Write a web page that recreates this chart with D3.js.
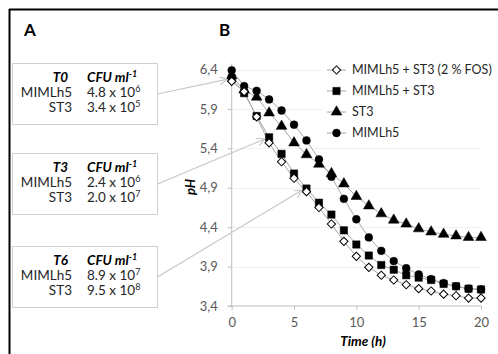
<!DOCTYPE html>
<html><head><meta charset="utf-8">
<script src="https://cdn.jsdelivr.net/npm/d3@7"></script>
<style>body{margin:0;background:#fff}svg{display:block}text{font-family:Lato,"Open Sans",sans-serif}</style>
</head><body><svg id="c" width="498" height="354"></svg>
<script>
const time = d3.range(0, 21);
const fos   = [6.25,6.12,5.80,5.47,5.23,5.02,4.85,4.65,4.44,4.22,4.03,3.89,3.79,3.73,3.67,3.62,3.59,3.55,3.53,3.50,3.50];
const mixed = [6.29,6.10,5.81,5.54,5.33,5.08,4.89,4.71,4.56,4.36,4.18,4.04,3.92,3.86,3.79,3.76,3.73,3.68,3.65,3.62,3.61];
const st3   = [6.32,6.14,6.05,5.85,5.68,5.47,5.32,5.20,5.08,4.95,4.79,4.67,4.57,4.49,4.44,4.38,4.34,4.31,4.29,4.27,4.27];
const mimlh5= [6.39,6.19,6.13,6.02,5.88,5.70,5.50,5.26,5.04,4.76,4.50,4.27,4.10,3.97,3.88,3.80,3.74,3.69,3.65,3.62,3.61];
const seriesNames = ["MIMLh5 + ST3 (2 % FOS)","MIMLh5 + ST3","ST3","MIMLh5"];
const seriesShapes = ["diamond","square","triangle","circle"];
const yTicks = [3.4,3.9,4.4,4.9,5.4,5.9,6.4];
const xTicks = [0,5,10,15,20];
const boxTitles = ["T0","T3","T6"];
const boxRows = [["MIMLh5","4.8","6"],["ST3","3.4","5"],["MIMLh5","2.4","6"],["ST3","2.0","7"],["MIMLh5","8.9","7"],["ST3","9.5","8"]];
const arrowTimes = [0,3,6];
const arrowSeries = [0,1,1];

const svg = d3.select("#c");
const x = d3.scaleLinear().domain([0,20]).range([231.7,481]);
const y = d3.scaleLinear().domain([3.4,6.4]).range([306,69.5]);

// frame
svg.append("line").attr("x1",9).attr("x2",498).attr("y1",9.5).attr("y2",9.5).attr("stroke","#000").attr("stroke-width",2);
svg.append("line").attr("x1",9.5).attr("x2",9.5).attr("y1",9).attr("y2",354).attr("stroke","#000").attr("stroke-width",2);

svg.append("text").attr("x",24).attr("y",36).attr("font-size",17).attr("font-weight","bold").attr("fill","#000").text("A");
svg.append("text").attr("x",219).attr("y",36).attr("font-size",17).attr("font-weight","bold").attr("fill","#000").text("B");

// gridlines
svg.append("g").selectAll("line").data(yTicks.slice(1)).join("line")
  .attr("x1",x(0)).attr("x2",x(20)).attr("y1",d=>Math.round(y(d))+0.5).attr("y2",d=>Math.round(y(d))+0.5)
  .attr("stroke","#f0f0f0").attr("stroke-width",1);

// axes
const fmt = d=>d3.format(".1f")(d).replace(".",",");
const ya = svg.append("g").attr("transform",`translate(${x(0)},0)`)
  .call(d3.axisLeft(y).tickValues(yTicks).tickFormat(fmt).tickSize(4).tickPadding(10));
ya.select(".domain").attr("stroke","#bfbfbf").attr("d",`M-4,${y(3.4)}H0V${y(6.4)-6}`);
const xa = svg.append("g").attr("transform",`translate(0,${y(3.4)})`)
  .call(d3.axisBottom(x).tickValues(xTicks).tickSize(4).tickPadding(8));
xa.select(".domain").attr("stroke","#bfbfbf").attr("d",`M${x(0)},0H${x(20)}`);
[ya,xa].forEach(a=>{a.selectAll(".tick line").attr("stroke","#bfbfbf");
  a.selectAll("text").attr("font-size",13).attr("fill","#595959").attr("font-family","Lato,sans-serif");});

svg.append("text").attr("transform","translate(195,187) rotate(-90)").attr("text-anchor","middle")
  .attr("font-size",13).attr("font-weight","bold").attr("font-style","italic").attr("fill","#000").text("pH");
svg.append("text").attr("x",363).attr("y",346).attr("text-anchor","middle")
  .attr("font-size",13.5).attr("font-weight","bold").attr("font-style","italic").attr("fill","#000").text("Time (h)");

// series
const allData = [fos,mixed,st3,mimlh5];
const symbolOf = s => ({diamond:d3.symbol().type(d3.symbolSquare).size(34),
  square:d3.symbol().type(d3.symbolSquare).size(54),
  triangle:d3.symbol().type(d3.symbolTriangle).size(50),
  circle:d3.symbol().type(d3.symbolCircle).size(48)})[s];
const line = d3.line().x((d,i)=>x(time[i])).y(d=>y(d));
const order = [3,2,1,0];
order.forEach(k=>{
  svg.append("path").datum(allData[k]).attr("d",line).attr("fill","none").attr("stroke","#a6a6a6").attr("stroke-width",1);
});
order.forEach(k=>{
  const shp = seriesShapes[k];
  svg.append("g").selectAll("path").data(allData[k]).join("path")
    .attr("d",symbolOf(shp))
    .attr("transform",(d,i)=>`translate(${x(time[i])},${y(d)})`+(shp==="diamond"?" rotate(45)":""))
    .attr("fill",shp==="diamond"?"#fff":"#000").attr("stroke","#000").attr("stroke-width",shp==="diamond"?1:0.5);
});

// legend
const lg = svg.append("g");
lg.append("rect").attr("x",322).attr("y",57).attr("width",166).attr("height",88).attr("fill","#fff");
seriesNames.forEach((n,i)=>{
  const yy = 70 + i*21;
  lg.append("line").attr("x1",327).attr("x2",346).attr("y1",yy).attr("y2",yy).attr("stroke","#a6a6a6");
  const shp = seriesShapes[i];
  lg.append("path").attr("d",symbolOf(shp)).attr("transform",`translate(336.5,${yy})`+(shp==="diamond"?" rotate(45)":""))
    .attr("fill",shp==="diamond"?"#fff":"#000").attr("stroke","#000").attr("stroke-width",shp==="diamond"?1:0.5);
  lg.append("text").attr("x",352).attr("y",yy).attr("dy","0.35em").attr("font-size",12.5).attr("fill","#262626").text(n);
});

// panel A boxes
const boxTops = [63,153,246];
svg.append("defs").append("marker").attr("id","ah").attr("viewBox","0 0 10 10").attr("refX",9).attr("refY",5)
  .attr("markerWidth",8).attr("markerHeight",8).attr("markerUnits","userSpaceOnUse").attr("orient","auto")
  .append("path").attr("d","M0,0L10,5L0,10").attr("fill","none").attr("stroke","#c8c8c8").attr("stroke-width",1.5);
boxTitles.forEach((t,b)=>{
  const top = boxTops[b];
  const g = svg.append("g");
  g.append("rect").attr("x",12.5).attr("y",top+0.5).attr("width",145).attr("height",61).attr("fill","#fff").attr("stroke","#d0d0d0");
  g.append("text").attr("x",68).attr("y",top+19).attr("text-anchor","end").attr("font-size",13.5).attr("font-weight","bold").attr("font-style","italic").text(t);
  const cfu = g.append("text").attr("x",87).attr("y",top+19).attr("font-size",13.5).attr("font-weight","bold").attr("font-style","italic");
  cfu.append("tspan").text("CFU ml");
  cfu.append("tspan").attr("dy",-5).attr("font-size",9).text("-1");
  [0,1].forEach(r=>{
    const row = boxRows[b*2+r];
    const yy = top+34+r*15;
    g.append("text").attr("x",72).attr("y",yy).attr("text-anchor","end").attr("font-size",13.5).attr("fill","#262626").text(row[0]);
    const v = g.append("text").attr("x",87).attr("y",yy).attr("font-size",13.5).attr("fill","#262626");
    v.append("tspan").text(row[1]+" x 10");
    v.append("tspan").attr("dy",-5).attr("font-size",9).text(row[2]);
  });
  const tx = arrowTimes[b], s = arrowSeries[b];
  const ex = x(tx) - 5, ey = y(allData[s][tx]) + (b===0?-2:2);
  g.append("line").attr("x1",157.5).attr("y1",top+31).attr("x2",ex).attr("y2",ey)
    .attr("stroke","#c8c8c8").attr("stroke-width",1.2).attr("marker-end","url(#ah)");
});
</script></body></html>
